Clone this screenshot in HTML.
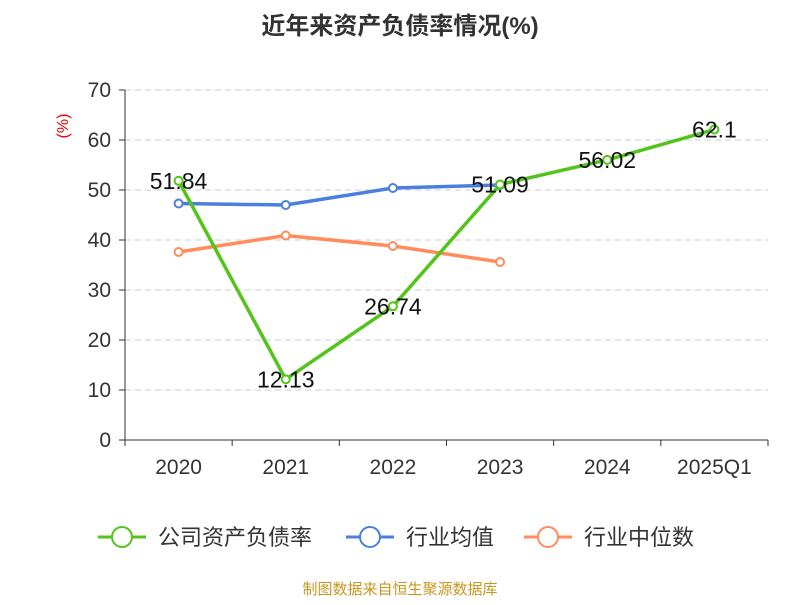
<!DOCTYPE html>
<html><head><meta charset="utf-8"><style>
body{margin:0;background:#fff;font-family:"Liberation Sans","Noto Sans CJK SC",sans-serif;}
svg text{font-family:"Liberation Sans","Noto Sans CJK SC",sans-serif;}
</style></head><body>
<svg id="c" width="800" height="600" xmlns="http://www.w3.org/2000/svg">
<text x="400" y="34" text-anchor="middle" font-size="24" font-weight="bold" fill="#333">近年来资产负债率情况(%)</text>
<text x="68" y="126" text-anchor="middle" font-size="16" fill="#e00" transform="rotate(-90 68 126)">(%)</text>
<g id="grid"></g><g id="axes"></g><g id="series"></g>
<g>
<g><line x1="98" y1="537" x2="146" y2="537" stroke="#52c41a" stroke-width="3"/><circle cx="122" cy="537" r="10" fill="#fff" stroke="#52c41a" stroke-width="2"/><text x="158" y="545" font-size="22" fill="#333">公司资产负债率</text></g>
<g><line x1="346" y1="537" x2="394" y2="537" stroke="#4a7fdf" stroke-width="3"/><circle cx="370" cy="537" r="10" fill="#fff" stroke="#4a7fdf" stroke-width="2"/><text x="406" y="545" font-size="22" fill="#333">行业均值</text></g>
<g><line x1="524" y1="537" x2="572" y2="537" stroke="#ff8c5a" stroke-width="3"/><circle cx="548" cy="537" r="10" fill="#fff" stroke="#ff8c5a" stroke-width="2"/><text x="584" y="545" font-size="22" fill="#333">行业中位数</text></g>
</g>
<text x="400" y="594" text-anchor="middle" font-size="15" fill="#c8961e">制图数据来自恒生聚源数据库</text>
</svg>
<script>
const categories=["2020","2021","2022","2023","2024","2025Q1"];
const companyValues=[51.84,12.13,26.74,51.09,56.02,62.1];
const avgValues=[47.3,47.0,50.4,51.0];
const medianValues=[37.6,40.9,38.8,35.6];
const yTicks=[0,10,20,30,40,50,60,70];
const NS="http://www.w3.org/2000/svg";
const x0=125,x1=768,y0=440,yTop=90,yMax=70;
const bw=(x1-x0)/categories.length;
const xs=i=>x0+bw*(i+0.5);
const ys=v=>y0-(v/yMax)*(y0-yTop);
function mk(tag,attrs,parent){const e=document.createElementNS(NS,tag);for(const k in attrs)e.setAttribute(k,attrs[k]);parent.appendChild(e);return e;}
const grid=document.getElementById('grid'),axes=document.getElementById('axes'),ser=document.getElementById('series');
yTicks.forEach(t=>{const y=ys(t);
if(t>0){const g=mk('line',{x1:x0,x2:x1,y1:y,y2:y,stroke:'#ccc','stroke-dasharray':'6,4'},grid);

}
mk('line',{x1:x0-6,x2:x0,y1:y,y2:y,stroke:'#333'},axes);
const tx=mk('text',{x:x0-14,y:y+7,'text-anchor':'end','font-size':21,fill:'#333'},axes);tx.textContent=t;

});
mk('line',{x1:x0,x2:x0,y1:yTop,y2:y0,stroke:'#333'},axes);
mk('line',{x1:x0,x2:x1,y1:y0,y2:y0,stroke:'#333'},axes);
for(let i=0;i<=categories.length;i++){mk('line',{x1:x0+bw*i,x2:x0+bw*i,y1:y0,y2:y0+6,stroke:'#333'},axes);}
categories.forEach((c,i)=>{const tx=mk('text',{x:xs(i),y:474,'text-anchor':'middle','font-size':21,fill:'#333'},axes);tx.textContent=c;

});
function line(vals,color,name,labels){
const p=mk('polyline',{points:vals.map((v,i)=>xs(i)+','+ys(v)).join(' '),fill:'none',stroke:color,'stroke-width':3.5},ser);


vals.forEach((v,i)=>{const c=mk('circle',{cx:xs(i),cy:ys(v),r:4,fill:'#fff',stroke:color,'stroke-width':2},ser);

});
if(labels)vals.forEach((v,i)=>{const t=mk('text',{x:xs(i),y:ys(v)+8,'text-anchor':'middle','font-size':23,fill:'#111'},ser);t.textContent=v;

});}
line(avgValues,'#4a7fdf','industry-avg',false);
line(medianValues,'#ff8c5a','industry-median',false);
line(companyValues,'#52c41a','company',true);
</script>
</body></html>
